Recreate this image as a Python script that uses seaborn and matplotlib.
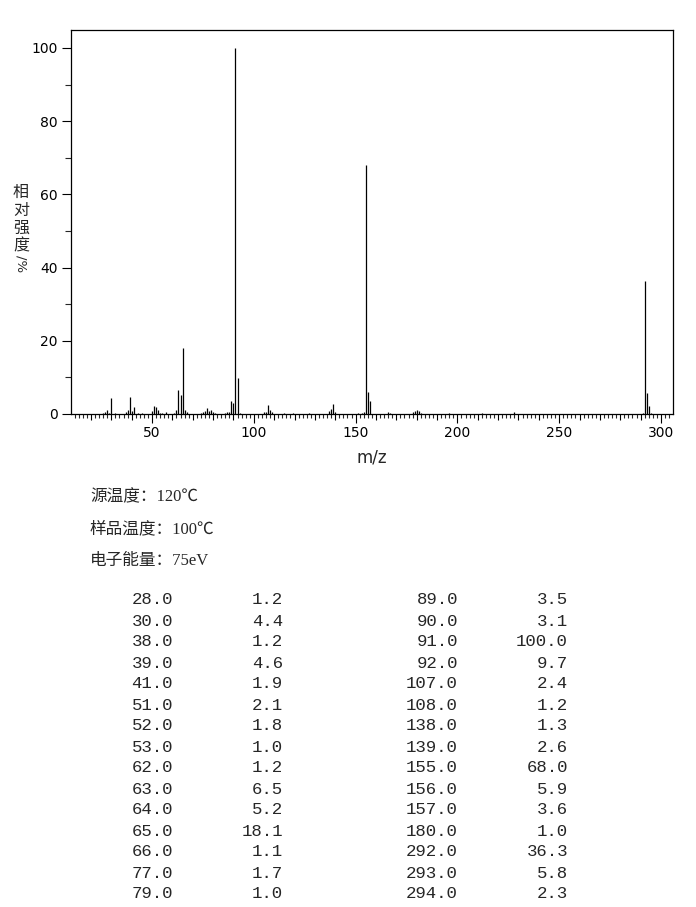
import numpy as np
import matplotlib
matplotlib.use("Agg")
import matplotlib.pyplot as plt
from matplotlib.ticker import MultipleLocator, FuncFormatter
import seaborn as sns

# Peaks listed in the table (m/z, relative intensity %)
TABLE_MZ = [28.0, 30.0, 38.0, 39.0, 41.0, 51.0, 52.0, 53.0, 62.0, 63.0, 64.0, 65.0, 66.0, 77.0, 79.0,
            89.0, 90.0, 91.0, 92.0, 107.0, 108.0, 138.0, 139.0, 155.0, 156.0, 157.0, 180.0, 292.0, 293.0, 294.0]
TABLE_INT = [1.2, 4.4, 1.2, 4.6, 1.9, 2.1, 1.8, 1.0, 1.2, 6.5, 5.2, 18.1, 1.1, 1.7, 1.0,
             3.5, 3.1, 100.0, 9.7, 2.4, 1.2, 1.3, 2.6, 68.0, 5.9, 3.6, 1.0, 36.3, 5.8, 2.3]

# Minor peaks (< 1 %)
SMALL_MZ = [26, 27, 29, 32, 37, 40, 43, 45, 50, 54, 55, 57, 61, 67, 74, 75, 76, 78, 80, 81,
            86, 87, 88, 93, 105, 106, 109, 115, 119, 127, 137, 140, 151, 153, 154,
            166, 167, 178, 179, 181, 182, 196, 212, 228, 291, 295]
SMALL_INT = [0.3, 0.6, 0.4, 0.3, 0.5, 0.7, 0.4, 0.3, 0.8, 0.4, 0.3, 0.5, 0.4, 0.6, 0.3, 0.5, 0.7, 0.9, 0.5, 0.3,
             0.3, 0.5, 0.6, 0.4, 0.5, 0.6, 0.5, 0.3, 0.3, 0.4, 0.7, 0.5, 0.4, 0.4, 0.6,
             0.5, 0.4, 0.5, 0.7, 0.8, 0.3, 0.3, 0.3, 0.5, 0.4, 0.4]

INFO_LINES = ["源温度：120℃", "样品温度：100℃", "电子能量：75eV"]
YLABEL_CHARS = ["相", "对", "强", "度"]

W, H = 696, 907

sns.set_style("ticks")
plt.rcParams['font.family'] = ['DejaVu Sans', 'Noto Sans CJK SC']

fig = plt.figure(figsize=(W / 100, H / 100), dpi=100)
ax = fig.add_axes([71 / W, 1 - 414 / H, (673 - 71) / W, (414 - 30) / H])

mz = np.array(TABLE_MZ + SMALL_MZ, dtype=float)
inten = np.array(TABLE_INT + SMALL_INT, dtype=float)
ax.vlines(mz, 0, inten, color="black", linewidth=0.9)

ax.set_xlim(10.2, 305.9)
ax.set_ylim(0, 104.9)

for s in ax.spines.values():
    s.set_linewidth(0.9)
    s.set_color("black")

# x ticks: every 10 (label only on 50s), minor every 2
ax.xaxis.set_major_locator(MultipleLocator(10))
ax.xaxis.set_minor_locator(MultipleLocator(2))
ax.xaxis.set_major_formatter(FuncFormatter(lambda v, p: f"{int(round(v))}" if round(v) % 50 == 0 else ""))
ax.tick_params(axis="x", which="major", length=4.5, width=0.8, labelsize=10, pad=4, colors="black")
ax.tick_params(axis="x", which="minor", length=3.2, width=0.8)
fig.canvas.draw()
for t in ax.xaxis.get_major_ticks():
    if round(t.get_loc()) % 50 == 0:
        t.tick1line.set_markersize(6.5)

ax.yaxis.set_major_locator(MultipleLocator(20))
ax.yaxis.set_minor_locator(MultipleLocator(10))
ax.tick_params(axis="y", which="major", length=6.5, width=0.8, labelsize=10, pad=3, colors="black")
ax.tick_params(axis="y", which="minor", length=4, width=0.8)

ax.set_xlabel("m/z", fontsize=12, labelpad=6)

# stacked vertical y label, one character per line
for i, ch in enumerate(YLABEL_CHARS):
    fig.text(21 / W, 1 - (192 + 18 * i) / H, ch, fontsize=11.5, ha="center", va="center",
             family=['Noto Sans CJK SC'])
fig.text(21 / W, 1 - 264 / H, "/%", fontsize=9.5, ha="center", va="center", rotation=-90)

# instrument conditions
for i, line in enumerate(INFO_LINES):
    fig.text(90 / W, 1 - (497 + 32 * i) / H, line, fontsize=12, ha="left", va="center",
             family=['Liberation Serif', 'Noto Sans CJK SC'])

# peak table, two column pairs
half = 15
col_right = [173, 283, 458, 568]
for r in range(half):
    y = 1 - (600 + 21 * r) / H
    vals = [TABLE_MZ[r], TABLE_INT[r], TABLE_MZ[r + half], TABLE_INT[r + half]]
    for c, v in enumerate(vals):
        fig.text(col_right[c] / W, y, f"{v:.1f}", fontsize=12.5, ha="right", va="center",
                 family="Liberation Mono")

fig.savefig("out.png", dpi=100, facecolor="white")
